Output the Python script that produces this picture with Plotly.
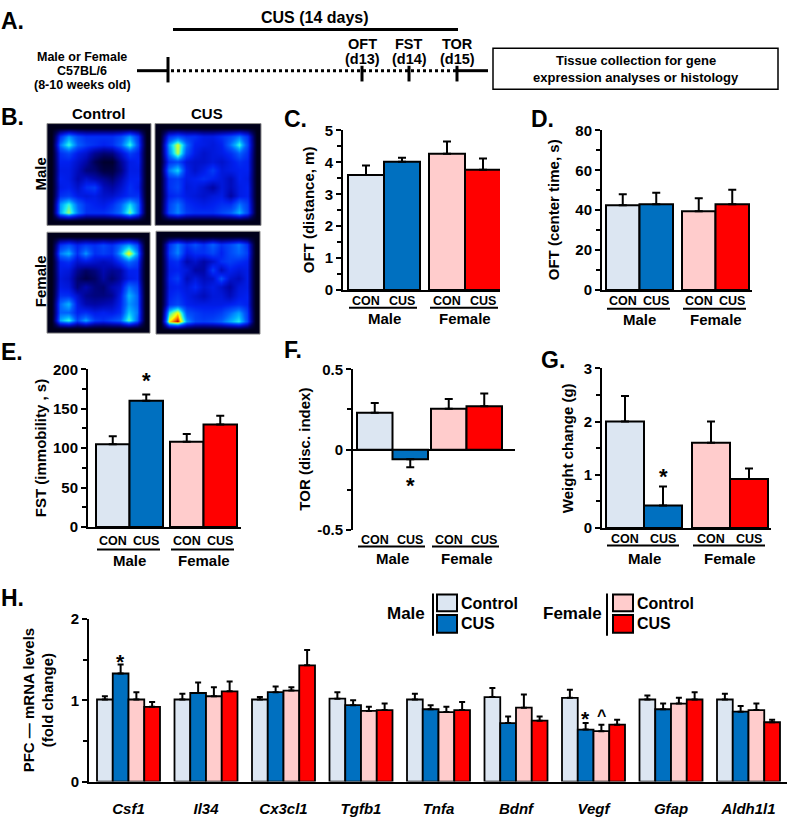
import numpy as np
import plotly.graph_objects as go

W, H = 789, 817
def px(x): return x / W
def py(y): return 1 - y / H

FONT = "Liberation Sans"

# ---------------- data ----------------
sexes = ["Male", "Female"]
conditions = ["CON", "CUS"]
bar_colors = ["#dce6f2", "#0070c0", "#ffcccc", "#ff0000"]

oft_distance = [3.60, 4.02, 4.27, 3.77]
oft_distance_err = [0.30, 0.12, 0.38, 0.35]
oft_center = [42.5, 43.0, 39.5, 43.0]
oft_center_err = [5.5, 5.7, 6.5, 7.3]
fst_immobility = [105, 160, 108, 130]
fst_immobility_err = [10, 8, 10, 11]
tor_index = [0.23, -0.06, 0.255, 0.27]
tor_index_err = [0.06, 0.05, 0.06, 0.08]
weight_change = [2.00, 0.42, 1.60, 0.92]
weight_change_err = [0.48, 0.36, 0.40, 0.20]

genes = ["Csf1", "Il34", "Cx3cl1", "Tgfb1", "Tnfa", "Bdnf", "Vegf", "Gfap", "Aldh1l1"]
mrna_male_control = [1.01, 1.01, 1.01, 1.02, 1.01, 1.04, 1.03, 1.01, 1.01]
mrna_male_control_err = [0.04, 0.07, 0.03, 0.08, 0.07, 0.11, 0.10, 0.05, 0.07]
mrna_male_cus = [1.33, 1.09, 1.10, 0.94, 0.89, 0.72, 0.64, 0.89, 0.86]
mrna_male_cus_err = [0.11, 0.13, 0.07, 0.06, 0.05, 0.08, 0.08, 0.07, 0.07]
mrna_female_control = [1.01, 1.05, 1.12, 0.87, 0.855, 0.91, 0.62, 0.96, 0.88]
mrna_female_control_err = [0.09, 0.11, 0.04, 0.05, 0.065, 0.16, 0.08, 0.07, 0.08]
mrna_female_cus = [0.92, 1.11, 1.43, 0.88, 0.88, 0.75, 0.70, 1.01, 0.73]
mrna_female_cus_err = [0.06, 0.12, 0.19, 0.08, 0.10, 0.05, 0.06, 0.09, 0.03]

# open-field occupancy heatmaps (10x10, top row first)
hm_male_control = [
    [.45, .62, .50, .45, .45, .45, .45, .50, .62, .45],
    [.58, .74, .55, .48, .45, .42, .45, .55, .74, .50],
    [.45, .50, .40, .35, .25, .20, .22, .35, .48, .42],
    [.42, .42, .35, .28, .16, .08, .08, .25, .40, .42],
    [.40, .40, .32, .22, .20, .12, .12, .22, .40, .40],
    [.42, .40, .30, .35, .30, .25, .20, .30, .42, .42],
    [.40, .42, .35, .45, .48, .32, .28, .35, .45, .40],
    [.45, .48, .40, .38, .40, .35, .35, .40, .45, .45],
    [.62, .74, .55, .45, .42, .40, .45, .55, .70, .55],
    [.64, .80, .58, .45, .45, .45, .50, .58, .78, .55],
]
hm_male_cus = [
    [.45, .52, .45, .45, .40, .40, .45, .50, .58, .45],
    [.62, .84, .58, .42, .40, .38, .42, .58, .74, .50],
    [.58, .82, .52, .40, .35, .38, .40, .45, .55, .45],
    [.45, .50, .38, .35, .35, .38, .35, .40, .45, .42],
    [.58, .70, .42, .35, .40, .48, .38, .40, .42, .42],
    [.45, .48, .40, .42, .45, .42, .38, .32, .42, .40],
    [.45, .50, .38, .40, .35, .28, .38, .32, .40, .42],
    [.42, .45, .40, .38, .35, .38, .40, .28, .40, .42],
    [.48, .58, .45, .42, .40, .42, .45, .45, .58, .48],
    [.50, .60, .48, .45, .45, .45, .50, .55, .66, .50],
]
hm_female_control = [
    [.45, .52, .42, .48, .45, .50, .45, .55, .64, .50],
    [.58, .66, .45, .62, .45, .48, .45, .64, .87, .62],
    [.42, .45, .35, .38, .35, .32, .35, .45, .56, .48],
    [.40, .38, .25, .18, .22, .30, .25, .28, .42, .42],
    [.38, .35, .20, .14, .18, .28, .20, .28, .40, .42],
    [.40, .38, .22, .30, .22, .20, .30, .35, .58, .50],
    [.45, .45, .35, .25, .22, .22, .25, .40, .66, .55],
    [.56, .66, .40, .30, .28, .30, .32, .42, .62, .55],
    [.55, .55, .42, .45, .40, .42, .40, .45, .68, .58],
    [.64, .74, .50, .64, .48, .45, .50, .55, .76, .55],
]
hm_female_cus = [
    [.45, .58, .45, .52, .45, .55, .45, .50, .58, .45],
    [.48, .60, .40, .45, .45, .50, .42, .50, .56, .48],
    [.42, .45, .30, .35, .28, .35, .45, .48, .45, .42],
    [.40, .42, .38, .28, .28, .48, .32, .42, .38, .40],
    [.42, .48, .32, .38, .32, .35, .52, .36, .32, .40],
    [.40, .42, .38, .44, .36, .40, .35, .28, .38, .40],
    [.42, .46, .40, .36, .32, .38, .38, .32, .40, .42],
    [.45, .50, .42, .40, .40, .40, .40, .42, .45, .42],
    [.72, .88, .52, .48, .45, .45, .48, .56, .64, .48],
    [.88, 1.0, .62, .50, .48, .50, .55, .64, .72, .50],
]

# ---------------- figure ----------------
fig = go.Figure()
layout = dict(width=W, height=H, margin=dict(l=0, r=0, t=0, b=0),
              paper_bgcolor="white", plot_bgcolor="rgba(0,0,0,0)", showlegend=False)
annotations = []
shapes = []

def text(x, y, s, size, xanchor="center", angle=0, italic=False, xref="paper", yref="paper", yshift=0):
    if italic:
        s = "<i>" + s + "</i>"
    annotations.append(dict(x=x, y=y, xref=xref, yref=yref, text="<b>" + s + "</b>", showarrow=False,
                            xanchor=xanchor, yanchor="middle", textangle=angle, yshift=yshift,
                            borderpad=0, font=dict(family=FONT, size=size, color="black")))

def pline(x0, y0, x1, y1, w=2, dash="solid", xref="paper"):
    shapes.append(dict(type="line", xref=xref, yref="paper", x0=x0, x1=x1, y0=y0, y1=y1,
                       line=dict(color="black", width=w, dash=dash)))

# ---- Panel A ----
text(px(0), py(12), "A.", 23, xanchor="left")
text(px(315), py(9), "CUS (14 days)", 16)
pline(px(173), py(21), px(458), py(21), w=3)
text(px(82), py(49.5), "Male or Female", 12.5)
text(px(82), py(63.5), "C57BL/6", 12.5)
text(px(82), py(77.5), "(8-10 weeks old)", 12.5)
pline(px(137), py(63), px(168), py(63), w=3)
pline(px(168), py(49), px(168), py(75), w=3)
pline(px(171), py(63), px(456), py(63), w=3, dash="dot")
for xx, t1, t2 in [(362, "OFT", "(d13)"), (409, "FST", "(d14)"), (457, "TOR", "(d15)")]:
    text(px(xx), py(35.5), t1, 14.5)
    text(px(xx), py(51.5), t2, 14.5)
    pline(px(xx), py(58), px(xx), py(74), w=3)
pline(px(457), py(63), px(488), py(63), w=3)
shapes.append(dict(type="rect", xref="paper", yref="paper", x0=px(493), x1=px(778), y0=py(40), y1=py(82),
                   line=dict(color="black", width=1.5), fillcolor="rgba(0,0,0,0)"))
text(px(636), py(53), "Tissue collection for gene", 13)
text(px(636), py(69.5), "expression analyses or histology", 13)

# ---- Panel B (heatmaps) ----
text(px(0), py(110), "B.", 23, xanchor="left")
text(px(99), py(107), "Control", 15)
text(px(207), py(107), "CUS", 15)
text(px(40), py(169), "Male", 15, angle=-90)
text(px(40), py(278), "Female", 15, angle=-90)

jet = [[0.0, "#000008"], [0.15, "#000050"], [0.3, "#0008b0"], [0.42, "#0020f0"], [0.55, "#0060ff"],
       [0.65, "#00b0ff"], [0.72, "#20f0f0"], [0.8, "#a0ff60"], [0.87, "#ffff00"], [0.93, "#ff8000"],
       [1.0, "#c00000"]]
heat_boxes = [(hm_male_control, 47, 151, 117, 221), (hm_male_cus, 155, 261, 117, 221),
              (hm_female_control, 47, 150, 228, 331), (hm_female_cus, 156, 260, 227, 332)]
for k, (grid, x0, x1, y0, y1) in enumerate(heat_boxes):
    n = 7 + k
    z = np.pad(np.array(grid), 1, constant_values=0.04)
    fig.add_trace(go.Heatmap(z=z, colorscale=jet, zmin=0, zmax=1, showscale=False, zsmooth="best",
                             xaxis=f"x{n}", yaxis=f"y{n}", hoverinfo="skip"))
    layout[f"xaxis{n}"] = dict(domain=[px(x0), px(x1)], range=[-0.5, z.shape[1] - 0.5], visible=False,
                               anchor=f"y{n}")
    layout[f"yaxis{n}"] = dict(domain=[py(y1), py(y0)], range=[z.shape[0] - 0.5, -0.5], visible=False,
                               anchor=f"x{n}")
    shapes.append(dict(type="rect", xref="paper", yref="paper", x0=px(x0), x1=px(x1), y0=py(y1), y1=py(y0),
                       line=dict(color="#8a8a8a", width=1)))

# ---- bar panels C-G ----
def bar_panel(n, vals, errs, ax_x, ax_end, y_top, y_bot, yrange, dtick, minor, pad, bw, gap,
              title, title_x, letter, letter_x, letter_y, lab_y, line_y, grp_y, stars=(),
              ticktext=None, zero_axis=False):
    xs = [pad + bw * (i + 0.5) + (gap if i >= 2 else 0) for i in range(4)]
    up = [e if v >= 0 else 0 for v, e in zip(vals, errs)]
    dn = [e if v < 0 else 0 for v, e in zip(vals, errs)]
    fig.add_trace(go.Bar(x=xs, y=vals, width=bw, marker=dict(color=bar_colors, line=dict(color="black", width=2)),
                         error_y=dict(type="data", symmetric=False, array=up, arrayminus=dn,
                                      color="black", thickness=2, width=4),
                         xaxis=f"x{n}", yaxis=f"y{n}"))
    xr = ax_end - ax_x
    layout[f"xaxis{n}"] = dict(domain=[px(ax_x), px(ax_end)], range=[0, xr], anchor=f"y{n}",
                               showline=not zero_axis, linewidth=2, linecolor="black",
                               showticklabels=False, ticks="", showgrid=False, zeroline=False, fixedrange=True)
    ya = dict(domain=[py(y_bot), py(y_top)], range=yrange, anchor=f"x{n}", showline=True, linewidth=2,
              linecolor="black", ticks="outside", ticklen=5, tickwidth=2, tickcolor="black",
              dtick=dtick, tick0=0, showgrid=False, zeroline=zero_axis, zerolinewidth=2,
              zerolinecolor="black",
              minor=dict(dtick=minor, ticks="outside", ticklen=4, tickwidth=2, tickcolor="black", showgrid=False),
              tickfont=dict(family=FONT, size=15, color="black", weight="bold"), fixedrange=True)
    if ticktext:
        ya["tickvals"] = ticktext[0]
        ya["ticktext"] = ticktext[1]
        ya.pop("dtick")
    layout[f"yaxis{n}"] = ya
    text(px(title_x), py((y_top + y_bot) / 2), title, 15, angle=-90)
    text(px(letter_x), py(letter_y), letter, 23, xanchor="left")
    xref = f"x{n}"
    for i in range(4):
        text(xs[i], py(lab_y), conditions[i % 2], 12.5, xref=xref)
    for g in range(2):
        left = xs[2 * g] - bw / 2
        right = xs[2 * g + 1] + bw / 2
        pline(left + 1, py(line_y), right - 3, py(line_y), w=2, xref=xref)
        text((left + right) / 2, py(grp_y), sexes[g], 15, xref=xref)
    for i, off in stars:
        v = vals[i] + (errs[i] if vals[i] >= 0 else -errs[i])
        text(xs[i], v, "*", 22, xref=xref, yref=f"y{n}", yshift=off)

bar_panel(1, oft_distance, oft_distance_err, 343, 500, 124, 287, [0, 5], 1, 0.5, 5, 36, 9,
          "OFT (distance, m)", 308, "C.", 283, 112, 298, 305, 316)
bar_panel(2, oft_center, oft_center_err, 602, 752, 124, 287, [0, 80], 20, 10, 4, 33.5, 9,
          "OFT (center time, s)", 553, "D.", 530, 112, 298, 306, 317)
bar_panel(3, fst_immobility, fst_immobility_err, 88, 241, 368, 529, [0, 200], 50, 25, 8, 33.5, 7,
          "FST (immobility , s)", 40, "E.", 0, 350, 543, 552, 563, stars=[(1, 14)])
bar_panel(4, tor_index, tor_index_err, 353, 515, 368, 532, [-0.5, 0.5], 0.5, 0.25, 4, 35.5, 3,
          "TOR (disc. index)", 305, "F.", 283, 348, 542, 549, 561, stars=[(1, -18)],
          ticktext=([-0.5, 0, 0.5], ["-0.5", "0", "0.5"]), zero_axis=True)
bar_panel(5, weight_change, weight_change_err, 602, 771, 367, 530, [0, 3], 1, 0.5, 4, 38, 10,
          "Weight change (g)", 567, "G.", 540, 358, 541, 548, 561, stars=[(1, 10)])

# ---- Panel H ----
n = 6
hx0, hx1, hy_top, hy_bot = 89, 787, 623, 789
gstep, hbw, hpad = 77.5, 15.75, 8
series = [(mrna_male_control, mrna_male_control_err), (mrna_male_cus, mrna_male_cus_err),
          (mrna_female_control, mrna_female_control_err), (mrna_female_cus, mrna_female_cus_err)]
for s, (vals, errs) in enumerate(series):
    xs = [hpad + g * gstep + hbw * (s + 0.5) for g in range(len(genes))]
    fig.add_trace(go.Bar(x=xs, y=vals, width=hbw,
                         marker=dict(color=bar_colors[s], line=dict(color="black", width=1.8)),
                         error_y=dict(type="data", symmetric=False, array=errs, arrayminus=[0] * len(errs),
                                      color="black", thickness=2, width=3),
                         xaxis=f"x{n}", yaxis=f"y{n}"))
centers = [hpad + g * gstep + 2 * hbw for g in range(len(genes))]
layout[f"xaxis{n}"] = dict(domain=[px(hx0), px(hx1)], range=[0, hx1 - hx0], anchor=f"y{n}", showline=True,
                           linewidth=2, linecolor="black", tickvals=centers,
                           ticktext=[f"<b><i>{g}</i></b>" for g in genes], ticks="outside", ticklen=12,
                           tickcolor="rgba(0,0,0,0)", showgrid=False, zeroline=False,
                           tickfont=dict(family=FONT, size=15, color="black"), fixedrange=True)
layout[f"yaxis{n}"] = dict(domain=[py(hy_bot), py(hy_top)], range=[0, 2], anchor=f"x{n}", showline=True,
                           linewidth=2, linecolor="black", ticks="outside", ticklen=5, tickwidth=2,
                           tickcolor="black", dtick=1, tick0=0, showgrid=False, zeroline=False,
                           minor=dict(dtick=0.5, ticks="outside", ticklen=4, tickwidth=2, tickcolor="black"),
                           tickfont=dict(family=FONT, size=15, color="black", weight="bold"), fixedrange=True)
text(px(0), py(602), "H.", 23, xanchor="left")
text(px(38), py(706), "PFC — mRNA levels<br>(fold change)", 15, angle=-90)
# significance marks
def hmark(s, g, sym, off):
    vals, errs = series[s]
    x = hpad + g * gstep + hbw * (s + 0.5)
    text(x, vals[g] + errs[g], sym, 21 if sym == "*" else 16, xref=f"x{n}", yref=f"y{n}", yshift=off)
hmark(1, 0, "*", 3)
hmark(1, 6, "*", 5)
hmark(2, 6, "^", 9)

# legend for H
for lab_x, lab, line_x, box_x0, box_x1, cols in [(406, "Male", 433, 437, 457, bar_colors[:2]),
                                                 (572, "Female", 607, 613, 633, bar_colors[2:])]:
    text(px(lab_x), py(617), lab, 17)
    pline(px(line_x), py(597), px(line_x), py(640), w=2)
    for (yy0, yy1), col, name, ty in [((598, 615), cols[0], "Control", 607), ((619, 637), cols[1], "CUS", 628)]:
        shapes.append(dict(type="rect", xref="paper", yref="paper", x0=px(box_x0), x1=px(box_x1),
                           y0=py(yy1), y1=py(yy0), fillcolor=col, line=dict(color="black", width=2)))
        text(px(box_x1 + 3), py(ty), name, 16, xanchor="left")

layout["annotations"] = annotations
layout["shapes"] = shapes
fig.update_layout(**layout)
fig.write_html("out.html", config={"displayModeBar": False},
               post_script="document.body.style.margin='0';document.body.style.overflow='hidden';")
